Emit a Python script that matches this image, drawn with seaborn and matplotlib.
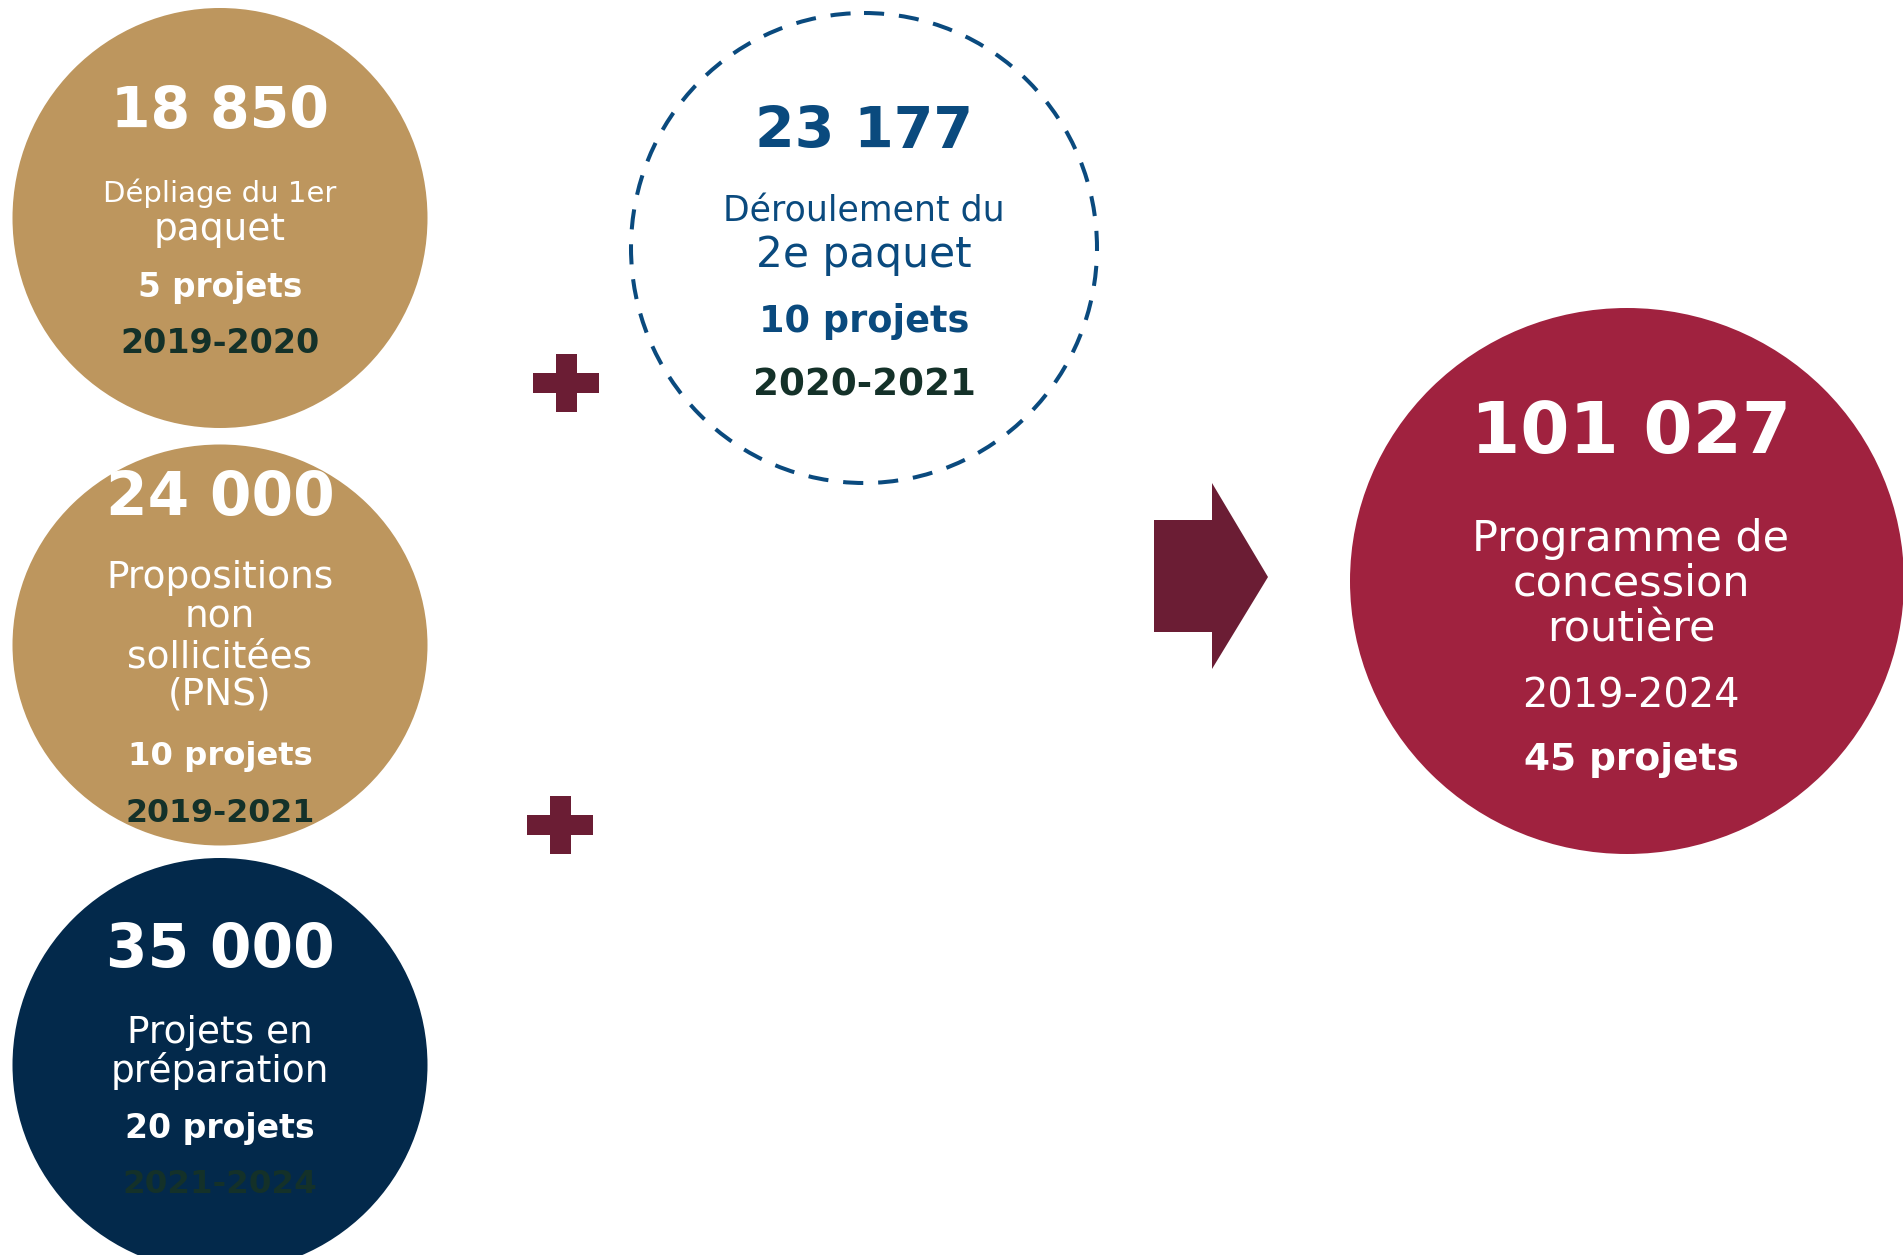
import matplotlib
matplotlib.use("Agg")
import matplotlib.pyplot as plt
from matplotlib.patches import Ellipse, Rectangle, Polygon
import seaborn as sns

# Chart content
amounts = ["18 850", "24 000", "35 000", "23 177", "101 027"]
descriptions = [
    ["Dépliage du 1er", "paquet"],
    ["Propositions", "non", "sollicitées", "(PNS)"],
    ["Projets en", "préparation"],
    ["Déroulement du", "2e paquet"],
    ["Programme de", "concession", "routière"],
]
projects = ["5 projets", "10 projets", "20 projets", "10 projets", "45 projets"]
periods = ["2019-2020", "2019-2021", "2021-2024", "2020-2021", "2019-2024"]

# Colours
GOLD = "#BD965E"
NAVY = "#03294B"
RED = "#A0223F"
WINE = "#6B1D34"
BLUE = "#0A4A7E"
GREEN = "#143129"

sns.set_theme(style="white")
plt.rcParams["font.family"] = ["DejaVu Sans"]

fig = plt.figure(figsize=(19.03, 12.55), dpi=100)
ax = fig.add_axes([0, 0, 1, 1])
ax.set_xlim(0, 1903)
ax.set_ylim(1255, 0)
ax.axis("off")

# circle layout: centre x, centre y, width, height, fill, dashed
circles = [
    (220, 218, 415, 420, GOLD, False),
    (220, 645, 415, 401, GOLD, False),
    (220, 1065, 415, 414, NAVY, False),
    (864, 248, 466, 470, "none", True),
    (1627, 581, 554, 546, RED, False),
]
for cx, cy, w, h, fc, dashed in circles:
    if dashed:
        ax.add_patch(Ellipse((cx, cy), w, h, facecolor="none", edgecolor=BLUE,
                             lw=2.9, linestyle=(0, (5, 3.7))))
    else:
        ax.add_patch(Ellipse((cx, cy), w, h, facecolor=fc, edgecolor="none"))

# plus signs
for px, py in [(533, 354), (527, 796)]:
    ax.add_patch(Rectangle((px, py + 19), 66, 20, color=WINE, lw=0))
    ax.add_patch(Rectangle((px + 23, py), 21, 58, color=WINE, lw=0))

# arrow
ax.add_patch(Polygon([(1154, 520), (1212, 520), (1212, 483), (1268, 577),
                      (1212, 669), (1212, 632), (1154, 632)],
                     closed=True, color=WINE, lw=0))

# text layout per circle: x, amount (baseline, size, colour),
# description (baselines, sizes, colour), projects / period (baseline, size, colour, weight)
layout = [
    dict(x=220, amt=(128, 41, "white"), desc=([202, 240], [21, 27], "white"),
         proj=(297, 23.5, "white", "bold"), per=(353, 24, GREEN, "bold")),
    dict(x=220, amt=(515, 43, "white"), desc=([588, 628, 667, 705], [27, 27, 27, 27], "white"),
         proj=(765, 23.2, "white", "bold"), per=(822, 22.8, GREEN, "bold")),
    dict(x=220, amt=(967, 43, "white"), desc=([1043, 1082], [27, 27], "white"),
         proj=(1138, 23.9, "white", "bold"), per=(1193, 23.4, GREEN, "bold")),
    dict(x=864, amt=(148, 41, BLUE), desc=([222, 267], [25, 30.4], BLUE),
         proj=(332, 26.4, BLUE, "bold"), per=(395, 26.8, GREEN, "bold")),
    dict(x=1631, amt=(453, 51, "white"), desc=([551, 596, 641], [31, 31, 31], "white"),
         per=(708, 28.7, "white", "normal"), proj=(770, 27, "white", "bold")),
]

for i, lay in enumerate(layout):
    x = lay["x"]
    y, fs, col = lay["amt"]
    ax.text(x, y, amounts[i], ha="center", va="baseline", fontsize=fs,
            color=col, fontweight="bold")
    ys, sizes, col = lay["desc"]
    for line, y, fs in zip(descriptions[i], ys, sizes):
        ax.text(x, y, line, ha="center", va="baseline", fontsize=fs, color=col)
    y, fs, col, wt = lay["proj"]
    ax.text(x, y, projects[i], ha="center", va="baseline", fontsize=fs,
            color=col, fontweight=wt)
    y, fs, col, wt = lay["per"]
    ax.text(x, y, periods[i], ha="center", va="baseline", fontsize=fs,
            color=col, fontweight=wt)

fig.savefig("out.png", dpi=100, facecolor="white")
